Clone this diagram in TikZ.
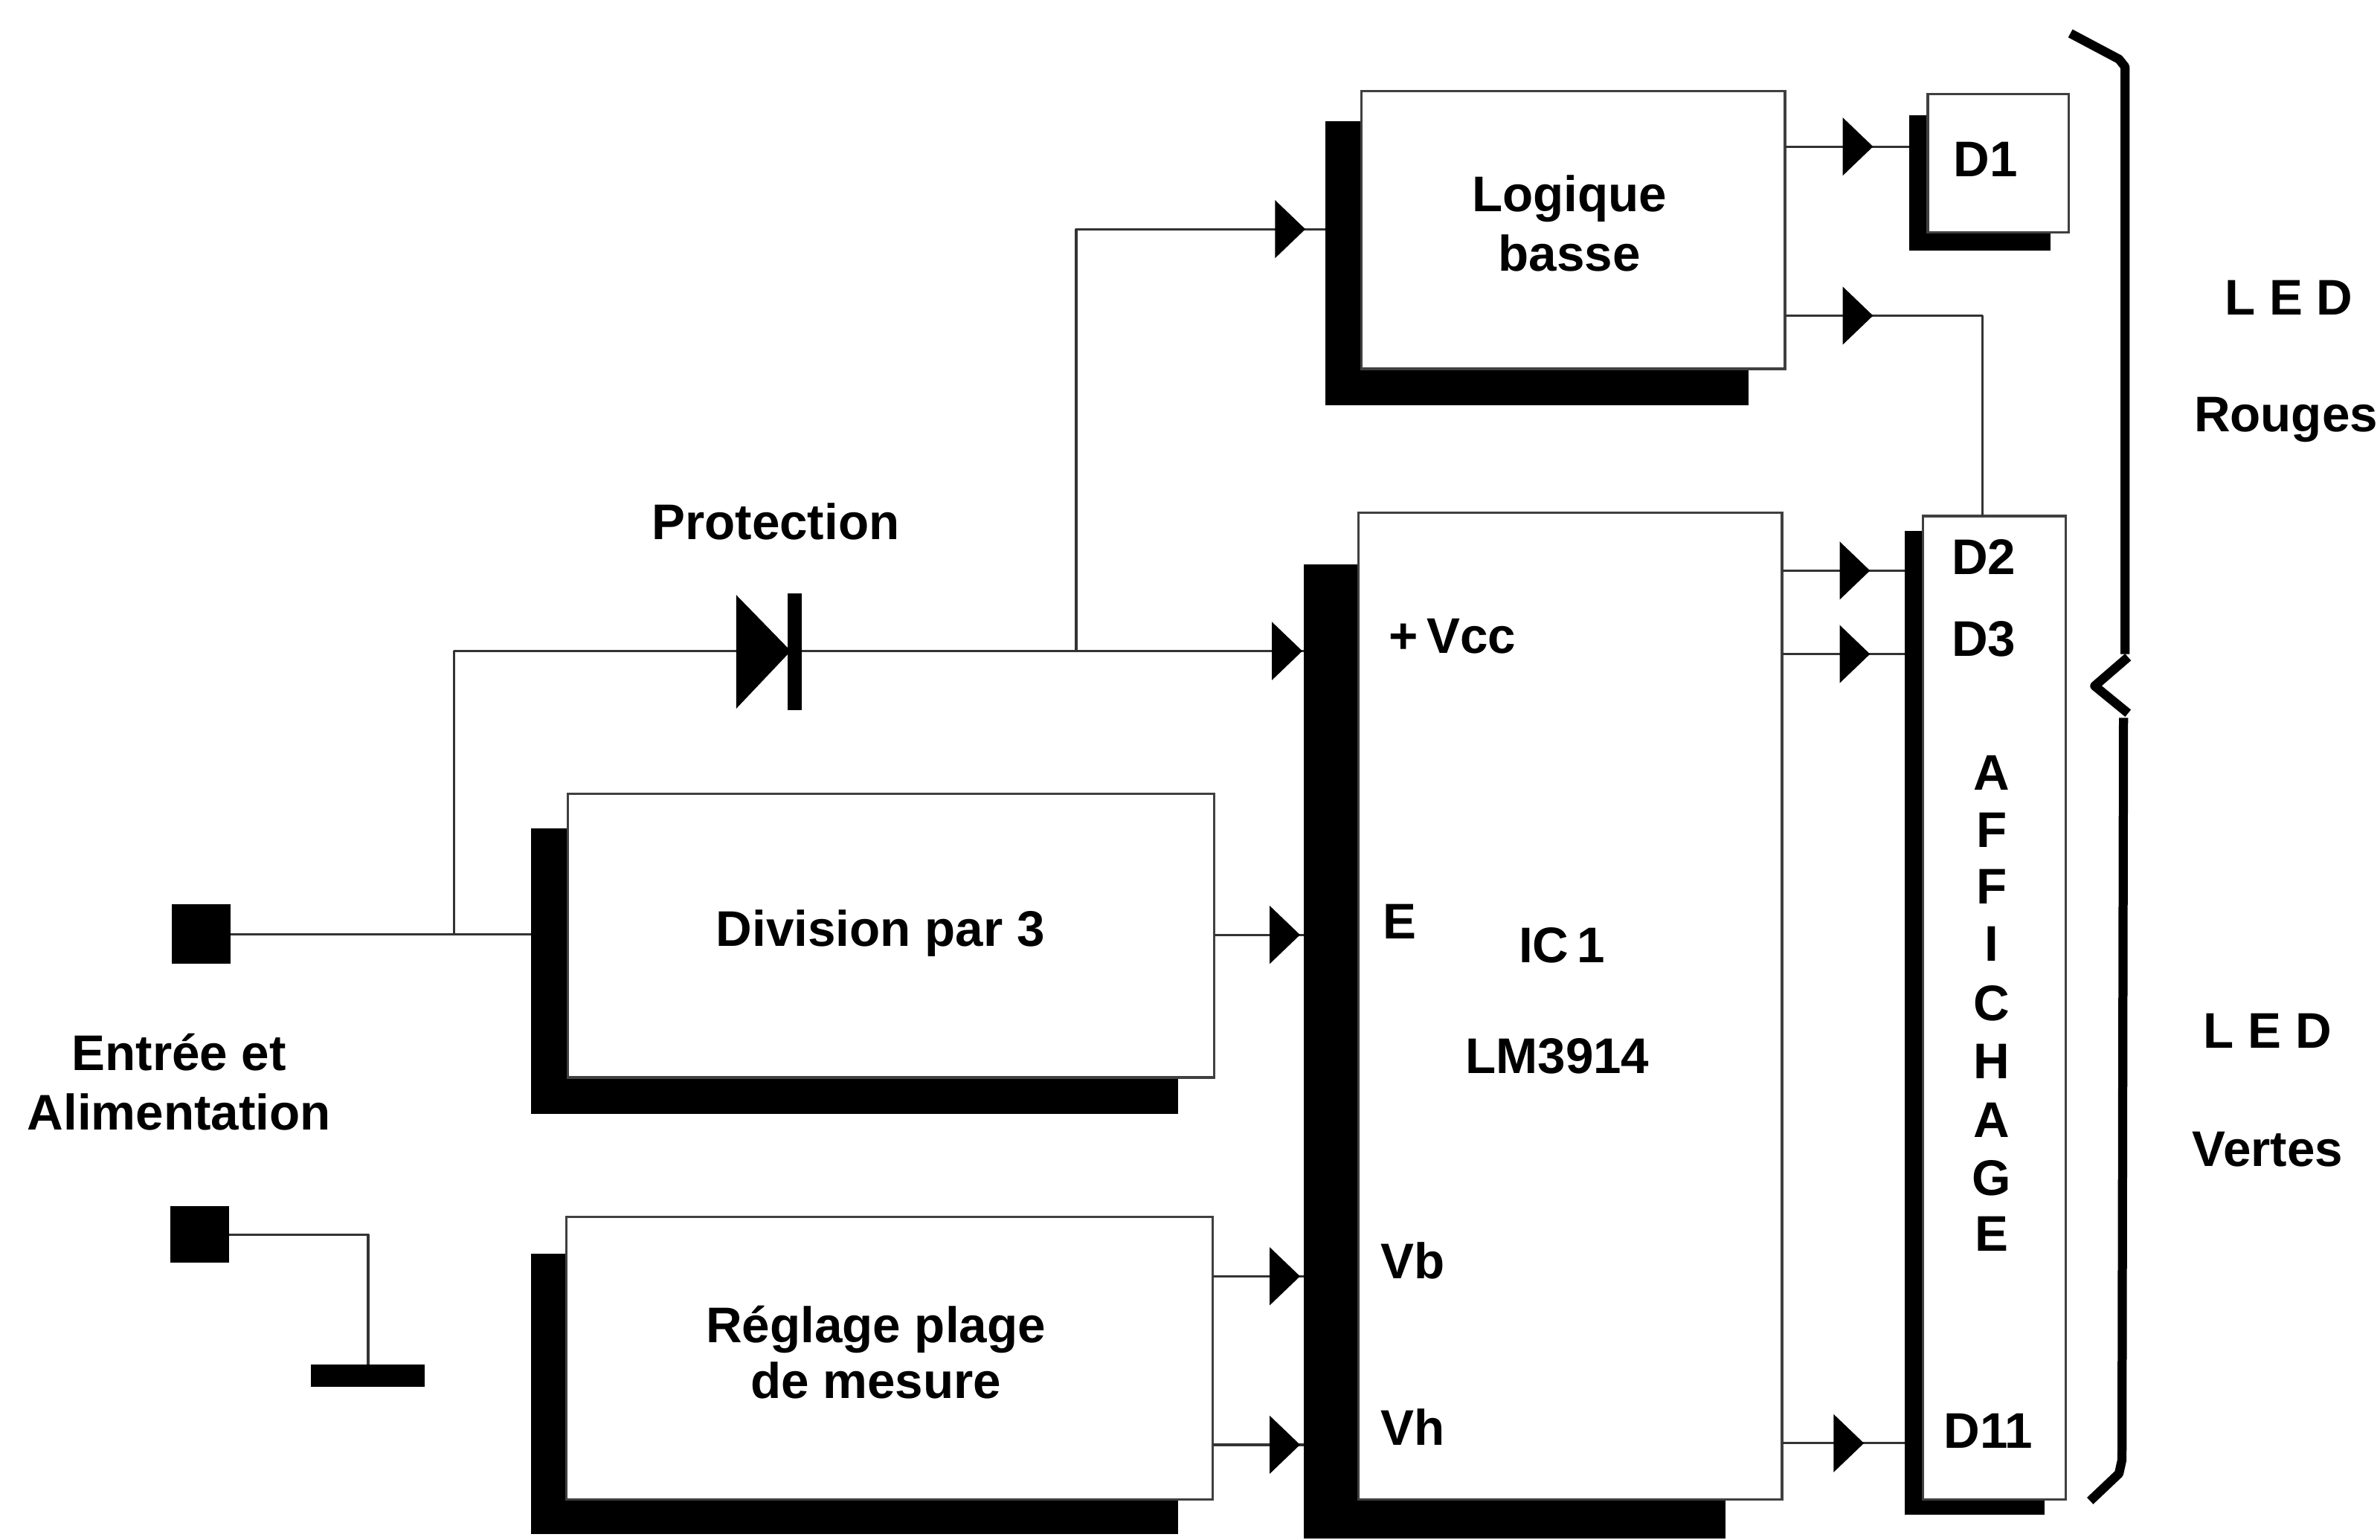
\documentclass[tikz,border=0pt]{standalone}
\usepackage{fontspec}
\setmainfont{Liberation Sans}
\usetikzlibrary{arrows.meta,decorations.markings}
\tikzset{
  wire/.style={draw=black!80,line width=1.6pt,line join=round},
  boxw/.style={draw=black!75,line width=1.6pt,fill=white,inner sep=0pt,outer sep=0pt},
  shad/.style={fill=black,inner sep=0pt,outer sep=0pt},
  lbl/.style={inner sep=0pt,outer sep=0pt,font=\fontsize{33}{33}\selectfont\bfseries,text height=23pt,text depth=0pt,align=center},
  brace/.style={draw=black,line width=6pt,line join=round},
  tip/.style={postaction={decorate},decoration={markings,mark=at position #1 with {\arrow[black,fill=black]{Triangle[length=20pt,width=38pt]}}}}
}
\begin{document}
\begin{tikzpicture}[x=1pt,y=-1pt]
\useasboundingbox (0,0) rectangle (1568,1014.3);
% blocks
\node[shad,minimum width=279pt,minimum height=187pt] (logS) at (1012.5,173.5) {};
\node[boxw,minimum width=279pt,minimum height=183pt] (log) at (1036.5,151.5) {};
\node[shad,minimum width=93pt,minimum height=89pt] (d1S) at (1304.5,120.5) {};
\node[boxw,minimum width=93pt,minimum height=91pt] (d1) at (1316.5,107.5) {};
\node[shad,minimum width=278pt,minimum height=642pt] (icS) at (998,693) {};
\node[boxw,minimum width=279pt,minimum height=650pt] (ic) at (1034.5,663) {};
\node[shad,minimum width=92pt,minimum height=648pt] (affS) at (1301,674) {};
\node[boxw,minimum width=94pt,minimum height=648pt] (aff) at (1314,664) {};
\node[shad,minimum width=426pt,minimum height=188pt] (divS) at (563,640) {};
\node[boxw,minimum width=426pt,minimum height=187pt] (div) at (587,616.5) {};
\node[shad,minimum width=426pt,minimum height=185pt] (regS) at (563,918.5) {};
\node[boxw,minimum width=426pt,minimum height=186pt] (reg) at (586,895) {};
% terminals
\node[shad,minimum width=39pt,minimum height=39pt] (entA) at (132.5,615.5) {};
\node[shad,minimum width=39pt,minimum height=37pt] (entB) at (131.5,813.5) {};
\node[shad,minimum width=75pt,minimum height=15pt] (gnd) at (242.5,906.5) {};
% diode
\coordinate (diA) at (485,429);
\coordinate (diK) at (528,429);
\fill (485,392) -- (521,429) -- (485,467) -- cycle;
\fill (519,391) rectangle (528,468);
% rows
\coordinate (r1) at (0,96.6);
\coordinate (r2) at (1306,208);
\coordinate (r3) at (0,376);
\coordinate (r4) at (0,431);
\coordinate (r5) at (0,951);
\coordinate (r6) at (0,616);
\coordinate (r7) at (0,841);
\coordinate (r8) at (0,952);
\coordinate (rL) at (0,151);
\coordinate (jIn) at (299,615.5);
\coordinate (jV) at (709,429);
% connectors
\draw[wire] (entA.east) -- (divS.west |- entA.east);
\draw[wire] (jIn) -- (jIn |- diA) -- (diA);
\draw[wire,tip=330pt] (diK) -- (icS.west |- diK);
\draw[wire,tip=429pt] (jV) -- (jV |- rL) -- (logS.west |- rL);
\draw[wire] (entB.east) -- (gnd.north |- entB.east) -- (gnd.north);
\draw[wire,tip=58pt] (log.east |- r1) -- (d1S.west |- r1);
\draw[wire,tip=58pt] (log.east |- r2) -- (r2) -- (r2 |- aff.north);
\draw[wire,tip=58pt] (ic.east |- r3) -- (affS.west |- r3);
\draw[wire,tip=58pt] (ic.east |- r4) -- (affS.west |- r4);
\draw[wire,tip=54pt] (ic.east |- r5) -- (affS.west |- r5);
\draw[wire,tip=56.5pt] (div.east |- r6) -- (icS.west |- r6);
\draw[wire,tip=57.5pt] (reg.east |- r7) -- (icS.west |- r7);
\draw[wire,tip=57.5pt] (reg.east |- r8) -- (icS.west |- r8);
% braces
\draw[brace] (1364,22) -- (1396,39) -- (1400,44) -- (1400,431);
\draw[brace] (1402,433) -- (1380,452) -- (1402,470);
\draw[brace] (1399,473) -- (1398,962) -- (1396,971) -- (1377,989);
% text
\node[lbl] (tLog) at (1034,128) {Logique};
\node[lbl] (tBas) at (1034,167) {basse};
\node[lbl] (tD1) at (1308,105) {D1};
\node[lbl] (tD2) at (1307,367) {D2};
\node[lbl] (tD3) at (1307,421) {D3};
\node[lbl] (tD11) at (1310,943) {D11};
\node[lbl] (tPro) at (511,344) {Protection};
\node[lbl] (tVcc) at (957,419) {+\,Vcc};
\node[lbl] (tE) at (922,607) {E};
\node[lbl] (tIC) at (1029,623) {IC\,1};
\node[lbl] (tLM) at (1026,696) {LM3914};
\node[lbl] (tVb) at (931,831) {Vb};
\node[lbl] (tVh) at (931,941) {Vh};
\node[lbl] (tDiv) at (580,612) {Division par 3};
\node[lbl] (tReg) at (577,873) {Réglage plage};
\node[lbl] (tMes) at (577,910) {de mesure};
\node[lbl] (tEnt) at (118,694) {Entrée et};
\node[lbl] (tAli) at (118,733) {Alimentation};
\node[lbl] (a1) at (1312,509) {A};
\node[lbl] (a2) at (1312,547) {F};
\node[lbl] (a3) at (1312,584) {F};
\node[lbl] (a4) at (1312,622) {I};
\node[lbl] (a5) at (1312,661) {C};
\node[lbl] (a6) at (1312,699) {H};
\node[lbl] (a7) at (1312,738) {A};
\node[lbl] (a8) at (1312,776) {G};
\node[lbl] (a9) at (1312,813) {E};
\node[lbl] (tL1) at (1508,196) {L E D};
\node[lbl] (tRo) at (1506,273) {Rouges};
\node[lbl] (tL2) at (1494,679) {L E D};
\node[lbl] (tVe) at (1494,757) {Vertes};
\end{tikzpicture}
\end{document}
